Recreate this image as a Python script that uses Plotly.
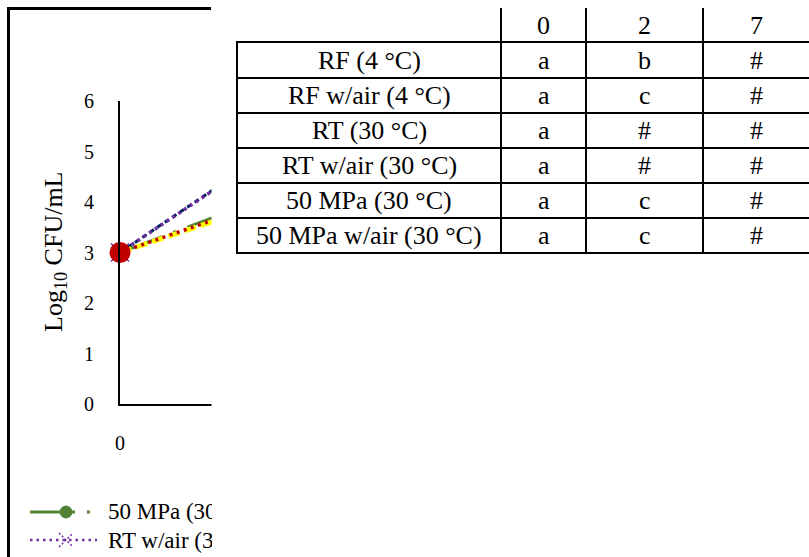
import plotly.graph_objects as go

# ---------------- data ----------------
days = [0, 2, 7]
mpa50 = [3.0, 4.23, 5.2]      # 50 MPa (30 °C)
rt = [3.0, 5.20, 5.9]         # RT (30 °C)
rf_air = [3.0, 4.09, 5.0]     # RF w/air (4 °C)
rt_air = [3.0, 5.18, 5.8]     # RT w/air (30 °C)
rf = [3.0, 4.14, 5.1]         # RF (4 °C)

y_ticks = [0, 1, 2, 3, 4, 5, 6]

table_rows = ["RF (4 °C)", "RF w/air (4 °C)", "RT (30 °C)", "RT w/air (30 °C)",
              "50 MPa (30 °C)", "50 MPa w/air (30 °C)"]
table_days = ["0", "2", "7"]
day0_letters = ["a", "a", "a", "a", "a", "a"]
day2_letters = ["b", "c", "#", "#", "c", "c"]
day7_letters = ["#", "#", "#", "#", "#", "#"]

legend_names = ["50 MPa (30 °C)", "RT w/air (30 °C)"]

# ---------------- layout helpers ----------------
W, H = 809, 557
L, R, T, B = 120, 780, 101, 404
FONT = "Liberation Serif"


def px(x):
    return (x - L) / (R - L)


def py(y):
    return (B - y) / (B - T)


fig = go.Figure()

fig.add_trace(go.Scatter(x=days, y=mpa50, mode="lines+markers", name=legend_names[0],
                         line=dict(color="#548235", width=3, dash="45px,12px,3px,12px"),
                         marker=dict(symbol="circle", size=12, color="#548235"),
                         cliponaxis=False))
fig.add_trace(go.Scatter(x=days, y=rt, mode="lines", name="RT (30 °C)",
                         line=dict(color="#002060", width=3, dash="5px,4px")))
fig.add_trace(go.Scatter(x=days, y=rf_air, mode="lines", name="RF w/air (4 °C)",
                         line=dict(color="#FFFF00", width=5, dash="12px,5px")))
fig.add_trace(go.Scatter(x=days, y=rt_air, mode="lines+markers", name=legend_names[1],
                         line=dict(color="#7030A0", width=3.5, dash="3px,4px"),
                         marker=dict(symbol="x-thin", size=18,
                                     line=dict(color="#7030A0", width=1.5)),
                         cliponaxis=False))
fig.add_trace(go.Scatter(x=days, y=rf, mode="lines+markers", name="RF (4 °C)",
                         line=dict(color="#C00000", width=3.5, dash="3px,4.5px"),
                         marker=dict(symbol="circle", size=21, color="#C00000"),
                         cliponaxis=False))

shapes = []
# white area that hides the right part of the chart
shapes.append(dict(type="rect", xref="paper", yref="paper", layer="above",
                   x0=px(211.5), x1=px(820), y0=py(570), y1=py(-10),
                   fillcolor="white", line=dict(width=0)))
# chart frame (top and left)
shapes.append(dict(type="line", xref="paper", yref="paper", layer="above",
                   x0=px(7), x1=px(211), y0=py(8.5), y1=py(8.5),
                   line=dict(color="black", width=3)))
shapes.append(dict(type="line", xref="paper", yref="paper", layer="above",
                   x0=px(8.5), x1=px(8.5), y0=py(7), y1=py(560),
                   line=dict(color="black", width=3)))

# table grid
row_lines = [42, 78, 113, 148, 183, 218, 253]
for yy in row_lines:
    shapes.append(dict(type="line", xref="paper", yref="paper", layer="above",
                       x0=px(236), x1=px(812), y0=py(yy), y1=py(yy),
                       line=dict(color="black", width=2)))
shapes.append(dict(type="line", xref="paper", yref="paper", layer="above",
                   x0=px(237), x1=px(237), y0=py(41), y1=py(254),
                   line=dict(color="black", width=2)))
for xx in [501, 586, 703]:
    shapes.append(dict(type="line", xref="paper", yref="paper", layer="above",
                       x0=px(xx), x1=px(xx), y0=py(8), y1=py(254),
                       line=dict(color="black", width=2)))

# legend keys (drawn)
shapes.append(dict(type="line", xref="paper", yref="paper", layer="above",
                   x0=px(30), x1=px(97), y0=py(512), y1=py(512),
                   line=dict(color="#548235", width=3, dash="45px,12px,3px,12px")))
shapes.append(dict(type="circle", xref="paper", yref="paper", layer="above",
                   x0=px(60), x1=px(72), y0=py(506), y1=py(518),
                   fillcolor="#548235", line=dict(color="#548235", width=1)))
shapes.append(dict(type="line", xref="paper", yref="paper", layer="above",
                   x0=px(30), x1=px(97), y0=py(540), y1=py(540),
                   line=dict(color="#7030A0", width=2.5, dash="2.5px,4px")))
shapes.append(dict(type="line", xref="paper", yref="paper", layer="above",
                   x0=px(59), x1=px(73), y0=py(533), y1=py(547),
                   line=dict(color="#7030A0", width=1.5, dash="2px,2px")))
shapes.append(dict(type="line", xref="paper", yref="paper", layer="above",
                   x0=px(59), x1=px(73), y0=py(547), y1=py(533),
                   line=dict(color="#7030A0", width=1.5, dash="2px,2px")))

annotations = []
# y-axis title
annotations.append(dict(xref="paper", yref="paper", x=px(55), y=py(252),
                        text="Log<sub>10</sub> CFU/mL", textangle=-90, showarrow=False,
                        xanchor="center", yanchor="middle",
                        font=dict(family=FONT, size=26, color="black")))

# table text
TF = dict(family=FONT, size=26, color="black")
col_centers = [543.5, 644.5, 756]
for c, d in zip(col_centers, table_days):
    annotations.append(dict(xref="paper", yref="paper", x=px(c), y=py(25.5), text=d,
                            showarrow=False, xanchor="center", yanchor="middle", font=TF))
row_centers = [(row_lines[i] + row_lines[i + 1]) / 2 for i in range(6)]
for i, name in enumerate(table_rows):
    yc = py(row_centers[i])
    annotations.append(dict(xref="paper", yref="paper", x=px(369), y=yc, text=name,
                            showarrow=False, xanchor="center", yanchor="middle", font=TF))
    for c, col in zip(col_centers, [day0_letters, day2_letters, day7_letters]):
        annotations.append(dict(xref="paper", yref="paper", x=px(c), y=yc, text=col[i],
                                showarrow=False, xanchor="center", yanchor="middle", font=TF))

# legend text (clipped at chart edge)
for name, yy in zip(legend_names, [512, 540]):
    annotations.append(dict(xref="paper", yref="paper", x=px(107), y=py(yy), text=name,
                            showarrow=False, xanchor="left", yanchor="middle",
                            width=104, align="left", borderpad=0,
                            font=dict(family=FONT, size=23, color="black")))

fig.update_layout(
    width=W, height=H,
    margin=dict(l=L, r=W - R, t=T, b=H - B, pad=0),
    paper_bgcolor="white", plot_bgcolor="white",
    showlegend=False,
    font=dict(family=FONT, color="black"),
    shapes=shapes, annotations=annotations,
    xaxis=dict(range=[0, 8], tick0=0, dtick=2, showline=True, linecolor="black",
               linewidth=2, showgrid=False, zeroline=False, ticks="",
               ticklabelstandoff=20, tickfont=dict(family=FONT, size=20, color="black")),
    yaxis=dict(range=[0, 6], tickvals=y_ticks, showline=True, linecolor="black",
               linewidth=2, showgrid=False, zeroline=False, ticks="",
               ticklabelstandoff=20, tickfont=dict(family=FONT, size=20, color="black")),
)

fig.write_html("out.html", config={"displayModeBar": False},
               post_script="document.body.style.margin='0px';document.body.style.overflow='hidden';")
